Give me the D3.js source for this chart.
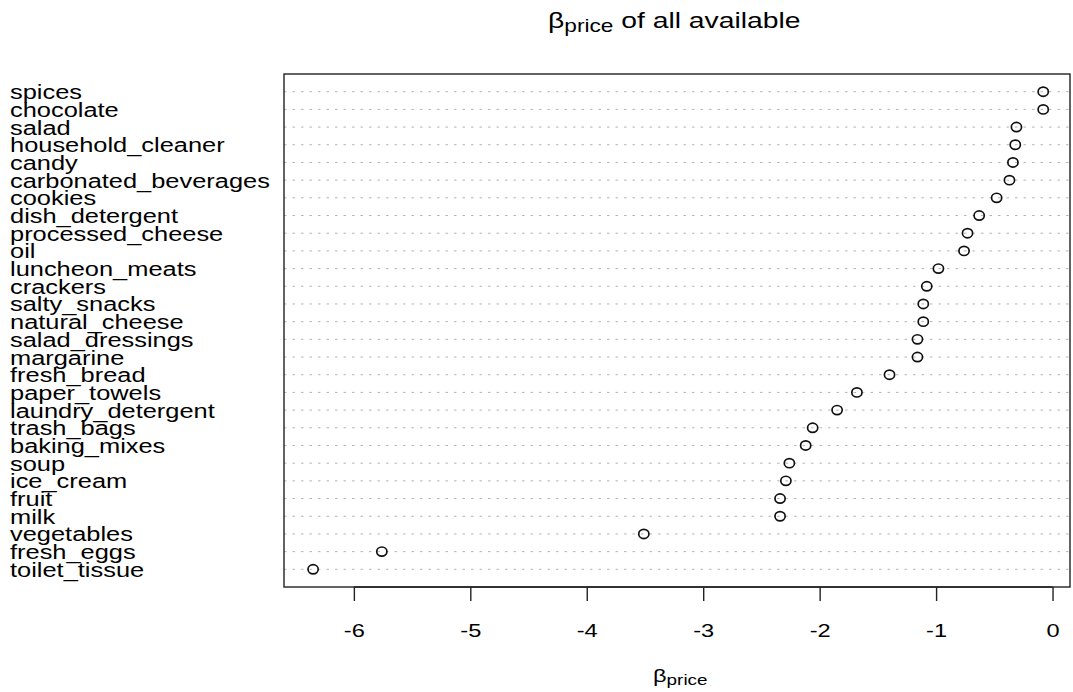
<!DOCTYPE html>
<html>
  <head>
    <meta charset="utf-8">
    <title>beta price dotchart</title>
    <script src="https://cdn.jsdelivr.net/npm/d3@7"></script>
    <style>
      body
      {
        margin: 0px;
        padding: 0px;
        background: white;
        font-family: "Liberation Sans", Arial, sans-serif;
      }

      .grid
      {
        stroke: #b4b4b4;
        stroke-width: 1px;
        stroke-dasharray: 2.5, 6;
      }

      .dot
      {
        fill: none;
        stroke: #111;
        stroke-width: 1.7px;
      }

      .label
      {
        font-size: 20px;
        fill: #000;
      }
    </style>
  </head>
  <body>
    <svg id="chart"></svg>

    <script>
      //--- Data, top row first (as in the picture)
      var categories = ["spices", "chocolate", "salad", "household_cleaner", "candy",
        "carbonated_beverages", "cookies", "dish_detergent", "processed_cheese", "oil",
        "luncheon_meats", "crackers", "salty_snacks", "natural_cheese", "salad_dressings",
        "margarine", "fresh_bread", "paper_towels", "laundry_detergent", "trash_bags",
        "baking_mixes", "soup", "ice_cream", "fruit", "milk", "vegetables",
        "fresh_eggs", "toilet_tissue"];

      var betaPrice = [-0.08, -0.08, -0.31, -0.32, -0.34,
        -0.37, -0.48, -0.63, -0.73, -0.76,
        -0.98, -1.08, -1.11, -1.11, -1.16,
        -1.16, -1.40, -1.68, -1.85, -2.06,
        -2.12, -2.26, -2.29, -2.34, -2.34, -3.51,
        -5.76, -6.35];

      var xTicks = [-6, -5, -4, -3, -2, -1, 0];

      var width = 1073;
      var height = 692;
      var sx = 1.27;   //--- the picture is stretched horizontally

      var plot = { left: 284, right: 1070, top: 74, bottom: 587 };

      var svg = d3.select("#chart")
          .attr("width", width)
          .attr("height", height);

      var n = categories.length;

      var x = d3.scaleLinear()
          .domain([-6.6, 0.15])
          .range([plot.left, plot.right]);

      //--- rows counted from the bottom like R's dotchart, ylim = c(0, n + 1)
      var y = d3.scaleLinear()
          .domain([0, n + 1])
          .range([plot.bottom, plot.top]);

      function rowY(i) { return y(n - i); }

      //--- Dotted row lines
      svg.append("g")
        .selectAll("line")
        .data(categories)
        .enter()
          .append("line")
            .classed("grid", true)
            .attr("x1", plot.left)
            .attr("x2", plot.right)
            .attr("y1", (d, i) => rowY(i))
            .attr("y2", (d, i) => rowY(i));

      //--- Points
      svg.append("g")
        .selectAll("ellipse")
        .data(betaPrice)
        .enter()
          .append("ellipse")
            .classed("dot", true)
            .attr("cx", d => x(d))
            .attr("cy", (d, i) => rowY(i))
            .attr("rx", 5.1)
            .attr("ry", 4.6);

      //--- Row labels
      svg.append("g")
        .selectAll("text")
        .data(categories)
        .enter()
          .append("text")
            .classed("label", true)
            .attr("transform", (d, i) => "translate(10," + (rowY(i) + 7.5) + ") scale(" + sx + ",1)")
            .text(d => d);

      //--- Box
      svg.append("rect")
        .attr("x", plot.left)
        .attr("y", plot.top)
        .attr("width", plot.right - plot.left)
        .attr("height", plot.bottom - plot.top)
        .attr("fill", "none")
        .attr("stroke", "#222")
        .attr("stroke-width", 1.4);

      //--- X axis
      var axis = d3.axisBottom(x)
          .tickValues(xTicks)
          .tickSize(14)
          .tickPadding(0)
          .tickFormat(d3.format("d"));

      var gx = svg.append("g")
        .attr("transform", "translate(0," + plot.bottom + ")")
        .call(axis);

      gx.select(".domain")
        .attr("d", "M" + x(-6) + ",0H" + x(0))
        .attr("stroke", "#222")
        .attr("stroke-width", 1.4);

      gx.selectAll(".tick line")
        .attr("stroke", "#222")
        .attr("stroke-width", 1.4);

      gx.selectAll(".tick text")
        .attr("font-family", "'Liberation Sans', Arial, sans-serif")
        .attr("font-size", "18.6px")
        .attr("fill", "#000")
        .attr("dy", null)
        .attr("y", 0)
        .attr("transform", "translate(0,50) scale(" + sx + ",1)")
        .text(d => d === 0 ? "0" : "-" + Math.abs(d));

      //--- Title and axis label (beta with subscript)
      function betaLabel(g, rest, size)
      {
        var t = g.append("text")
          .attr("font-size", size + "px")
          .attr("fill", "#000");
        t.append("tspan").text("\u03b2");
        t.append("tspan")
          .attr("font-size", (size * 0.8) + "px")
          .attr("dy", size * 0.18)
          .text("price");
        if (rest)
          t.append("tspan")
            .attr("dy", -size * 0.18)
            .text(rest);
        return t;
      }

      var title = svg.append("g")
        .attr("transform", "translate(548,28) scale(" + sx + ",1)");
      betaLabel(title, " of all available", 22.3);

      var xlab = svg.append("g")
        .attr("transform", "translate(653,682) scale(" + sx + ",1)");
      betaLabel(xlab, null, 18.6);
    </script>
  </body>
</html>
